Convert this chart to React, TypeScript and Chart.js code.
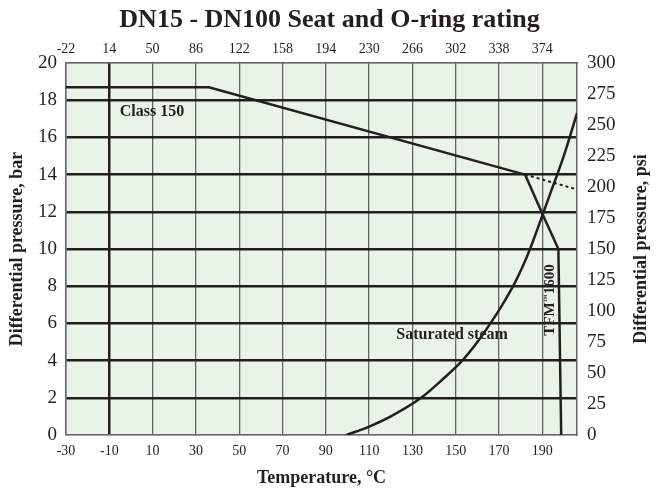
import React, { useEffect, useRef } from "react";
import { Chart, registerables } from "chart.js";

Chart.register(...registerables);

// Tick values
const tempTicksC = [-30, -10, 10, 30, 50, 70, 90, 110, 130, 150, 170, 190];
const tempTicksF = [-22, 14, 50, 86, 122, 158, 194, 230, 266, 302, 338, 374];
const barTicks = [0, 2, 4, 6, 8, 10, 12, 14, 16, 18, 20];
const psiTicks = [0, 25, 50, 75, 100, 125, 150, 175, 200, 225, 250, 275, 300];

// Class 150 rating line (°C, bar)
const class150Temp = [-30, 36, 182];
const class150Bar = [18.7, 18.7, 14.0];
// Dotted continuation of Class 150
const class150ExtTemp = [182, 206];
const class150ExtBar = [14.0, 13.2];
// TFM 1600 seat limit
const tfmTemp = [182, 190, 197.4, 198.7];
const tfmBar = [14.0, 11.9, 10.0, 0];
// Saturated steam curve
const steamTemp = [99.6, 110, 120, 134, 144, 153, 160, 166, 171.5, 176.5, 180.7, 184.3, 187.5, 190, 194, 197.5, 201, 206];
const steamBar = [0, 0.45, 1.0, 2.0, 3.0, 4.0, 5.0, 6.0, 7.0, 8.0, 9.0, 10.0, 11.0, 11.8, 13.1, 14.2, 15.4, 17.3];

const FONT = '"Liberation Serif", "DejaVu Serif", serif';
const INK = "#231f20";
const GRAY = "#666666";
const BG = "#e9f3e7";

const pts = (xs: number[], ys: number[]) => xs.map((x, i) => ({ x, y: ys[i] }));

const bgPlugin = {
  id: "plotBg",
  beforeDraw(chart: any) {
    const { ctx, chartArea } = chart;
    ctx.save();
    ctx.fillStyle = BG;
    ctx.fillRect(chartArea.left, chartArea.top, chartArea.right - chartArea.left, chartArea.bottom - chartArea.top);
    ctx.restore();
  },
};

const labelPlugin = {
  id: "curveLabels",
  afterDatasetsDraw(chart: any) {
    const { ctx, chartArea } = chart;
    const x = chart.scales.x;
    const y = chart.scales.y;
    ctx.save();
    ctx.fillStyle = INK;
    ctx.textAlign = "center";
    ctx.textBaseline = "middle";
    ctx.font = `bold 16px ${FONT}`;
    ctx.fillText("Class 150", x.getPixelForValue(9.7), y.getPixelForValue(17.37));
    ctx.fillText("Saturated steam", x.getPixelForValue(148.3), y.getPixelForValue(5.38));

    // TFM™1600, rotated, with a small raised ™
    ctx.save();
    ctx.translate(x.getPixelForValue(193.6), y.getPixelForValue(7.26));
    ctx.rotate(-Math.PI / 2);
    const big = `bold 15px ${FONT}`;
    const small = `bold 8px ${FONT}`;
    ctx.font = big;
    const w1 = ctx.measureText("TFM").width;
    const w3 = ctx.measureText("1600").width;
    ctx.font = small;
    const w2 = ctx.measureText("™").width;
    const total = w1 + w2 + w3;
    let cx = -total / 2;
    ctx.textAlign = "left";
    ctx.font = big;
    ctx.fillText("TFM", cx, 0);
    cx += w1;
    ctx.font = small;
    ctx.fillText("™", cx, -3);
    cx += w2;
    ctx.font = big;
    ctx.fillText("1600", cx, 0);
    ctx.restore();

    // Right axis title, reading bottom-to-top
    ctx.save();
    ctx.translate(641.5, (chartArea.top + chartArea.bottom) / 2);
    ctx.rotate(-Math.PI / 2);
    ctx.textAlign = "center";
    ctx.textBaseline = "middle";
    ctx.font = `bold 18px ${FONT}`;
    ctx.fillText("Differential pressure, psi", 0, 0);
    ctx.restore();

    ctx.restore();
  },
};

export default function App() {
  const ref = useRef<HTMLCanvasElement | null>(null);

  useEffect(() => {
    if (!ref.current) return;
    const lineDs = (data: any[], extra: any = {}) => ({
      data,
      borderColor: INK,
      borderWidth: 2.5,
      pointRadius: 0,
      fill: false,
      tension: 0,
      ...extra,
    });
    const chart = new Chart(ref.current, {
      type: "line",
      data: {
        datasets: [
          lineDs(pts(class150Temp, class150Bar)),
          lineDs(pts(class150ExtTemp, class150ExtBar), { borderDash: [3, 3], borderWidth: 2 }),
          lineDs(pts(tfmTemp, tfmBar)),
          lineDs(pts(steamTemp, steamBar), { cubicInterpolationMode: "monotone" }),
        ],
      },
      options: {
        animation: false,
        responsive: false,
        events: [],
        layout: { padding: 0 },
        plugins: {
          legend: { display: false },
          tooltip: { enabled: false },
          title: {
            display: true,
            text: "DN15 - DN100 Seat and O-ring rating",
            color: INK,
            font: { family: FONT, size: 26, weight: "bold", lineHeight: 1 },
            padding: { top: 7, bottom: 0 },
          },
        },
        scales: {
          x: {
            type: "linear",
            position: "bottom",
            min: -30,
            max: 206,
            afterBuildTicks: (s: any) => {
              s.ticks = tempTicksC.map((v) => ({ value: v }));
            },
            afterFit: (s: any) => {
              s.height = 55;
            },
            grid: {
              color: (c: any) => (c.tick && c.tick.value === -10 ? INK : GRAY),
              lineWidth: (c: any) => (c.tick && c.tick.value === -10 ? 2.5 : 1.3),
              drawTicks: false,
            },
            border: { display: true, color: GRAY, width: 1.5 },
            ticks: {
              color: INK,
              font: { family: FONT, size: 14 },
              padding: 8,
              autoSkip: false,
              maxRotation: 0,
              callback: (v: any) => String(v),
            },
            title: {
              display: true,
              text: "Temperature, °C",
              color: INK,
              font: { family: FONT, size: 18, weight: "bold" },
              padding: { top: 0, bottom: 1 },
            },
          },
          xTop: {
            type: "linear",
            position: "top",
            min: -30,
            max: 206,
            afterBuildTicks: (s: any) => {
              s.ticks = tempTicksC.map((v) => ({ value: v }));
            },
            afterFit: (s: any) => {
              s.height = 30;
            },
            grid: { display: false, drawTicks: false },
            border: { display: true, color: GRAY, width: 1.5 },
            ticks: {
              color: INK,
              font: { family: FONT, size: 14 },
              padding: 5,
              autoSkip: false,
              maxRotation: 0,
              callback: (_v: any, i: number) => String(tempTicksF[i]),
            },
          },
          y: {
            type: "linear",
            position: "left",
            min: 0,
            max: 20,
            afterBuildTicks: (s: any) => {
              s.ticks = barTicks.map((v) => ({ value: v }));
            },
            afterFit: (s: any) => {
              s.width = 66;
            },
            grid: {
              color: (c: any) => (c.tick && (c.tick.value === 0 || c.tick.value === 20) ? GRAY : INK),
              lineWidth: (c: any) => (c.tick && (c.tick.value === 0 || c.tick.value === 20) ? 1.3 : 2.5),
              drawTicks: false,
            },
            border: { display: true, color: GRAY, width: 1.5 },
            ticks: {
              color: INK,
              font: { family: FONT, size: 19 },
              padding: 9,
              autoSkip: false,
            },
            title: {
              display: true,
              text: "Differential pressure, bar",
              color: INK,
              font: { family: FONT, size: 18, weight: "bold" },
              padding: { top: 7, bottom: 0 },
            },
          },
          y2: {
            type: "linear",
            position: "right",
            min: 0,
            max: 300,
            afterBuildTicks: (s: any) => {
              s.ticks = psiTicks.map((v) => ({ value: v }));
            },
            afterFit: (s: any) => {
              s.width = 82;
            },
            grid: { display: false, drawTicks: false },
            border: { display: true, color: GRAY, width: 1.5 },
            ticks: {
              color: INK,
              font: { family: FONT, size: 19 },
              padding: 10,
              autoSkip: false,
            },
            title: { display: false },
          },
        },
      } as any,
      plugins: [bgPlugin, labelPlugin],
    });
    return () => chart.destroy();
  }, []);

  return (
    <div style={{ position: "absolute", left: 0, top: 0, width: 659, height: 490 }}>
      <canvas ref={ref} width={659} height={490} style={{ display: "block" }} />
    </div>
  );
}
